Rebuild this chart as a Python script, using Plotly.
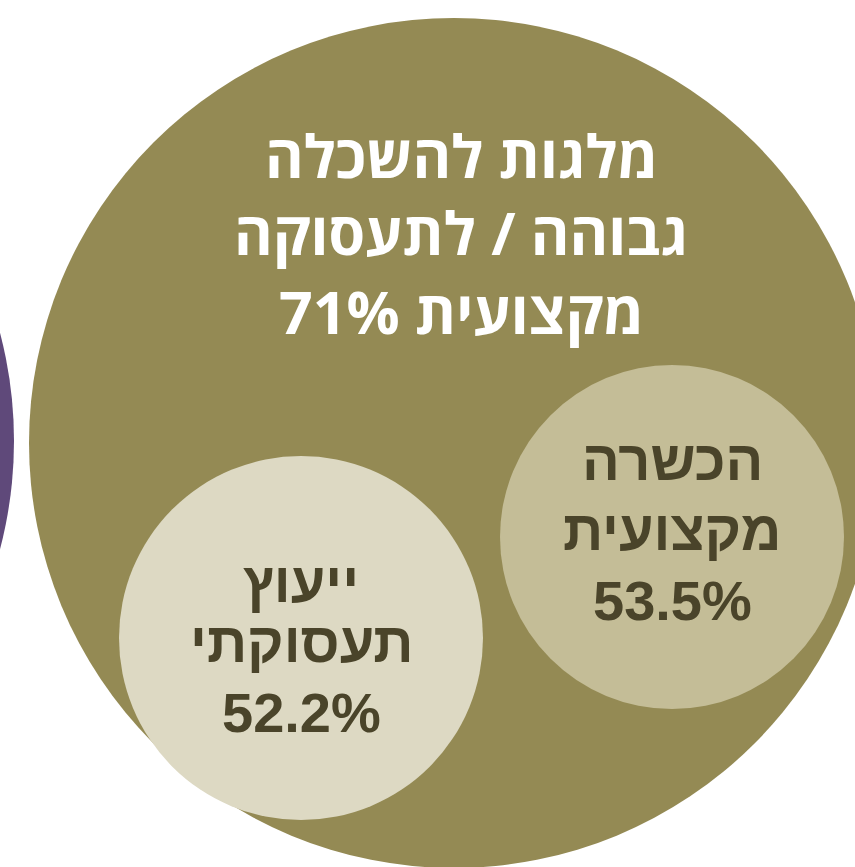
import plotly.graph_objects as go

# ---- data ----
categories = ["מלגות להשכלה גבוהה / לתעסוקה מקצועית", "הכשרה מקצועית", "ייעוץ תעסוקתי"]
label_lines = [
    ["מלגות להשכלה", "גבוהה / לתעסוקה", "מקצועית"],
    ["הכשרה", "מקצועית"],
    ["ייעוץ", "תעסוקתי"],
]
values = [71, 53.5, 52.2]

# ---- layout / geometry (pixels) ----
W, H = 855, 867
circles = [  # cx, cy, r, fill
    (-411, 441, 425, "#5F497A"),   # neighbouring (cut-off) circle
    (454, 443, 425, "#948A54"),
    (672, 537, 172, "#C4BD97"),
    (301, 638, 182, "#DDD9C3"),
]
# text blocks: center x, baselines, font family, size, colour, baseline->middle offset (em)
text_blocks = [
    (461, [178, 255, 334], "Open Sans", 59, "#FFFFFF", 0.388),
    (672, [480, 550, 620], "Liberation Sans, Arial", 56, "#4A442A", 0.3465),
    (301, [602, 662, 732], "Liberation Sans, Arial", 56, "#4A442A", 0.3465),
]

fig = go.Figure()
fig.add_trace(go.Scatter(x=[0, W], y=[0, H], mode="markers",
                         marker=dict(opacity=0), hoverinfo="skip", showlegend=False))

shapes = []
for cx, cy, r, col in circles:
    shapes.append(dict(type="circle", xref="x", yref="y",
                       x0=cx - r, x1=cx + r, y0=cy - r, y1=cy + r,
                       fillcolor=col, line=dict(width=0), layer="above"))

annotations = []
for i, (cx, baselines, fam, size, col, off) in enumerate(text_blocks):
    lines = list(label_lines[i])
    pct = f"{values[i]:g}%"
    if i == 0:
        lines[-1] = "\u200f" + lines[-1] + " " + pct
    else:
        lines.append(pct)
    for line, bl in zip(lines, baselines):
        annotations.append(dict(x=cx, y=bl - off * size, xref="x", yref="y",
                                text=f"<b>{line}</b>", showarrow=False,
                                xanchor="center", yanchor="middle",
                                font=dict(family=fam, size=size, color=col)))

fig.update_layout(
    width=W, height=H, margin=dict(l=0, r=0, t=0, b=0),
    paper_bgcolor="white", plot_bgcolor="white",
    xaxis=dict(range=[0, W], visible=False, fixedrange=True),
    yaxis=dict(range=[H, 0], visible=False, fixedrange=True),
    shapes=shapes, annotations=annotations, showlegend=False,
)
fig.write_html("out.html", config={"displayModeBar": False},
               post_script="document.body.style.margin='0';")
